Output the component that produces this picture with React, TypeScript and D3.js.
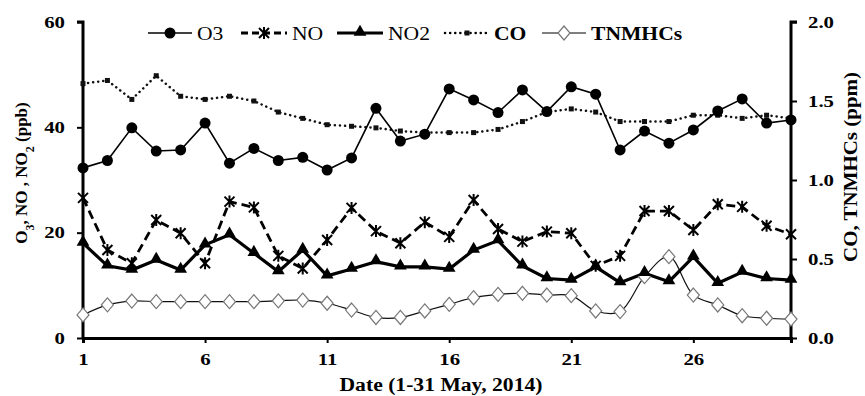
import React, { useEffect, useRef } from 'react'
import * as d3 from 'd3'

// days 1..30 of May 2014
const days = d3.range(1, 31)

const o3 = [32.3, 33.7, 39.9, 35.5, 35.7, 40.8, 33.2, 36.0, 33.7, 34.3,
  31.9, 34.2, 43.6, 37.4, 38.7, 47.3, 45.2, 42.8, 47.1, 43.0,
  47.7, 46.3, 35.7, 39.3, 37.0, 39.5, 43.1, 45.4, 40.8, 41.4]

const no = [26.6, 16.7, 14.2, 22.4, 19.9, 14.2, 25.9, 24.8, 15.6, 13.2,
  18.6, 24.7, 20.3, 18.0, 22.0, 19.2, 26.2, 20.7, 18.3, 20.2,
  19.9, 13.7, 15.6, 24.1, 24.1, 20.5, 25.4, 24.9, 21.3, 19.7]

const no2 = [18.0, 13.7, 12.9, 14.8, 12.9, 17.7, 19.6, 16.1, 12.6, 16.7,
  11.8, 13.1, 14.5, 13.5, 13.5, 13.1, 16.7, 18.5, 13.7, 11.3,
  11.0, 13.5, 10.5, 12.3, 10.7, 15.4, 10.4, 12.5, 11.3, 11.0]

const co = [1.61, 1.63, 1.51, 1.66, 1.53, 1.51, 1.53, 1.50, 1.43, 1.39,
  1.35, 1.34, 1.33, 1.31, 1.30, 1.30, 1.30, 1.32, 1.37, 1.43,
  1.45, 1.43, 1.37, 1.37, 1.37, 1.41, 1.41, 1.39, 1.41, 1.39]

const tnmhc = [0.146, 0.21, 0.234, 0.23, 0.23, 0.23, 0.23, 0.23, 0.235, 0.24,
  0.22, 0.177, 0.13, 0.13, 0.171, 0.213, 0.255, 0.276, 0.283, 0.272,
  0.268, 0.171, 0.167, 0.388, 0.515, 0.272, 0.209, 0.141, 0.125, 0.12]

const xTicks = [1, 6, 11, 16, 21, 26]
const leftTicks = [0, 20, 40, 60]
const rightTicks = [0, 0.5, 1.0, 1.5, 2.0]

const W = 865
const H = 396
const FONT = '"Liberation Serif", "Times New Roman", serif'
const SX = 1.3 // the original's lettering is drawn wide

export default function App() {
  const ref = useRef<SVGSVGElement>(null)

  useEffect(() => {
    const svg = d3.select(ref.current)
    svg.selectAll('*').remove()

    const x = d3.scaleLinear().domain([1, 30]).range([83, 791])
    const yL = d3.scaleLinear().domain([0, 60]).range([338, 22])
    const yR = d3.scaleLinear().domain([0, 2]).range([338, 22])

    svg.append('rect').attr('width', W).attr('height', H).attr('fill', '#fff')

    // axes
    const ax = svg.append('g').attr('font-family', FONT)
    const bottom = ax.append('g').attr('transform', `translate(0,${yL(0)})`)
      .call(d3.axisBottom(x).tickValues(xTicks).tickSize(5).tickPadding(11).tickFormat(d3.format('d')))
    const left = ax.append('g').attr('transform', `translate(${x(1)},0)`)
      .call(d3.axisLeft(yL).tickValues(leftTicks).tickSize(6).tickPadding(12))
    const right = ax.append('g').attr('transform', `translate(${x(30)},0)`)
      .call(d3.axisRight(yR).tickValues(rightTicks).tickSize(6).tickPadding(11).tickFormat(d3.format('.1f')))
    for (const g of [bottom, left, right]) {
      g.select('.domain').attr('stroke', '#000').attr('stroke-width', 3)
      g.selectAll('.tick line').attr('stroke', '#000').attr('stroke-width', 2)
      g.selectAll<SVGTextElement, unknown>('.tick text').attr('font-size', 16).attr('font-weight', 'bold')
        .attr('font-family', FONT).attr('fill', '#000')
        .each(function () {
          const t = d3.select(this)
          const tx = +(t.attr('x') || 0)
          t.attr('x', tx / SX).attr('transform', `scale(${SX},1)`)
        })
    }
    left.select('.domain').attr('d', `M-6,${yL(60)}H0V${yL(0)}`)
    right.select('.domain').attr('d', `M6,${yR(2)}H0V${yR(0)}`)

    // axis titles
    svg.append('text').attr('x', 441).attr('y', 391).attr('text-anchor', 'middle')
      .attr('font-family', FONT).attr('font-size', 18).attr('font-weight', 'bold')
      .attr('textLength', 203).attr('lengthAdjust', 'spacingAndGlyphs')
      .text('Date (1-31 May, 2014)')

    const lt = svg.append('text').attr('transform', 'translate(27,173) rotate(-90)')
      .attr('text-anchor', 'middle').attr('font-family', FONT).attr('font-size', 17).attr('font-weight', 'bold')
    lt.append('tspan').text('O')
    lt.append('tspan').attr('baseline-shift', 'sub').attr('font-size', 12).text('3')
    lt.append('tspan').text(', NO , NO')
    lt.append('tspan').attr('baseline-shift', 'sub').attr('font-size', 12).text('2')
    lt.append('tspan').text(' (ppb)')

    svg.append('text').attr('transform', 'translate(857,167) rotate(-90)')
      .attr('text-anchor', 'middle').attr('font-family', FONT).attr('font-size', 18).attr('font-weight', 'bold')
      .attr('textLength', 190).attr('lengthAdjust', 'spacingAndGlyphs')
      .text('CO, TNMHCs (ppm)')

    const plot = svg.append('g')

    // TNMHCs
    plot.append('path').datum(tnmhc)
      .attr('d', d3.line<number>().x((d, i) => x(days[i])).y(d => yR(d)).curve(d3.curveCatmullRom.alpha(0.5)))
      .attr('fill', 'none').attr('stroke', '#111').attr('stroke-width', 1.2)
    // CO
    plot.append('path').datum(co)
      .attr('d', d3.line<number>().x((d, i) => x(days[i])).y(d => yR(d)))
      .attr('fill', 'none').attr('stroke', '#111').attr('stroke-width', 2.5)
      .attr('stroke-dasharray', '0.1,5').attr('stroke-linecap', 'round')
    // NO
    plot.append('path').datum(no)
      .attr('d', d3.line<number>().x((d, i) => x(days[i])).y(d => yL(d)))
      .attr('fill', 'none').attr('stroke', '#000').attr('stroke-width', 2.8).attr('stroke-dasharray', '9,5')
    // NO2
    plot.append('path').datum(no2)
      .attr('d', d3.line<number>().x((d, i) => x(days[i])).y(d => yL(d)))
      .attr('fill', 'none').attr('stroke', '#000').attr('stroke-width', 3.2)
    // O3
    plot.append('path').datum(o3)
      .attr('d', d3.line<number>().x((d, i) => x(days[i])).y(d => yL(d)))
      .attr('fill', 'none').attr('stroke', '#000').attr('stroke-width', 1.6)

    const star = 'M-5,-5L5,5M-5,5L5,-5M0,-6L0,6'
    const tri = d3.symbol(d3.symbolTriangle, 70)()
    const diamond = 'M0,-7L6,0L0,7L-6,0Z'

    const markers = (sel: d3.Selection<SVGGElement, unknown, null, undefined>, kind: string) => {
      if (kind === 'o3') sel.append('circle').attr('r', 5.5).attr('fill', '#000')
      if (kind === 'no') sel.append('path').attr('d', star).attr('stroke', '#000').attr('stroke-width', 2).attr('fill', 'none')
      if (kind === 'no2') sel.append('path').attr('d', tri).attr('fill', '#000').attr('transform', 'translate(0,-1)')
      if (kind === 'co') sel.append('rect').attr('x', -2.5).attr('y', -2.5).attr('width', 5).attr('height', 5).attr('fill', '#111')
      if (kind === 'tn') sel.append('path').attr('d', diamond).attr('fill', '#fff').attr('stroke', '#777').attr('stroke-width', 1.2)
    }

    const series: [string, number[], d3.ScaleLinear<number, number>][] = [
      ['tn', tnmhc, yR], ['co', co, yR], ['no', no, yL], ['no2', no2, yL], ['o3', o3, yL]
    ]
    for (const [kind, vals, sc] of series) {
      vals.forEach((v, i) => {
        const g = plot.append('g').attr('transform', `translate(${x(days[i])},${sc(v)})`)
        markers(g, kind)
      })
    }

    // legend
    const legend = svg.append('g').attr('font-family', FONT).attr('font-size', 18)
    const items: [string, string, number, number][] = [
      ['o3', 'O3', 148, 44], ['no', 'NO', 241, 46], ['no2', 'NO2', 337, 46], ['co', 'CO', 445, 44], ['tn', 'TNMHCs', 542, 44]
    ]
    for (const [kind, label, lx, lw] of items) {
      const g = legend.append('g').attr('transform', `translate(${lx},33)`)
      const ln = g.append('line').attr('x1', 0).attr('x2', lw).attr('stroke', '#000')
      if (kind === 'o3') ln.attr('stroke-width', 1.6)
      if (kind === 'no') ln.attr('stroke-width', 2.8).attr('stroke-dasharray', '7,4')
      if (kind === 'no2') ln.attr('stroke-width', 3.2)
      if (kind === 'co') ln.attr('stroke-width', 2.5).attr('stroke-dasharray', '0.1,5').attr('stroke-linecap', 'round')
      if (kind === 'tn') ln.attr('stroke-width', 1.2)
      markers(g.append('g').attr('transform', `translate(${lw / 2},0)`), kind)
      g.append('text').attr('x', (lw + 5) / 1.2).attr('y', 6.5).attr('transform', 'scale(1.2,1)')
        .attr('font-weight', kind === 'tn' || kind === 'co' ? 'bold' : 'normal').text(label)
    }
  }, [])

  return (
    <svg ref={ref} width={W} height={H} style={{ position: 'absolute', left: 0, top: 0 }} />
  )
}
